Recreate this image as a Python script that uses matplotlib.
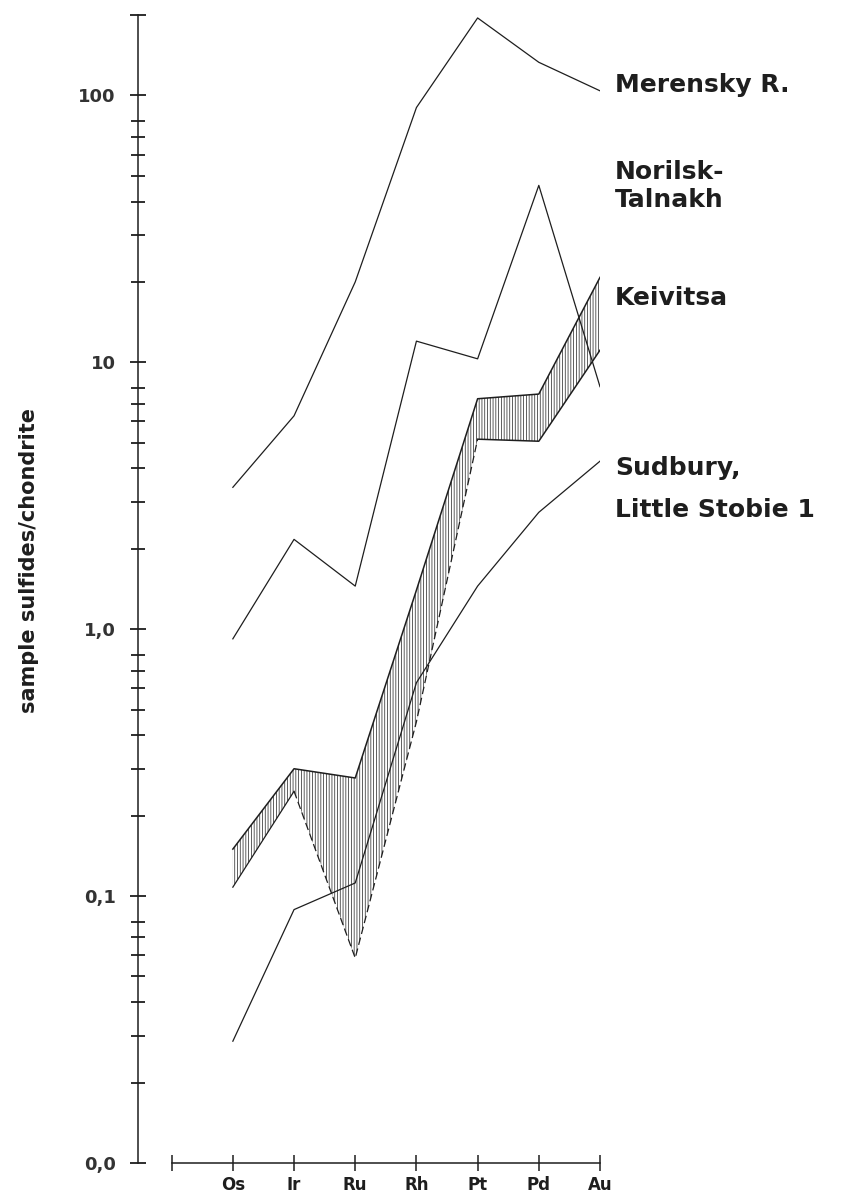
import matplotlib
matplotlib.use("Agg")
import matplotlib.pyplot as plt
from matplotlib.ticker import FixedLocator, NullFormatter

plt.rcParams['font.family'] = ['DejaVu Sans']
plt.rcParams['hatch.linewidth'] = 0.55

# chondrite-normalised noble metal contents
elements = ['Os', 'Ir', 'Ru', 'Rh', 'Pt', 'Pd', 'Au']
merensky = [3.4, 6.3, 20, 90, 195, 133, 104]
norilsk = [0.92, 2.17, 1.45, 12.0, 10.3, 46, 8.1]
sudbury = [0.0286, 0.089, 0.112, 0.63, 1.45, 2.74, 4.26]
keivitsa_hi = [0.150, 0.30, 0.277, 1.4, 7.3, 7.6, 20.8]
keivitsa_lo = [0.108, 0.247, 0.0586, 0.45, 5.15, 5.06, 11.1]

ytick_vals = [0.01, 0.1, 1, 10, 100, 200]
ytick_text = ['0,0', '0,1', '1,0', '10', '100', '']

W, H = 842, 1193
fig = plt.figure(figsize=(W / 100, H / 100), dpi=100)
ax = fig.add_axes([138 / W, 30 / H, 462 / W, 1148 / H])

x = list(range(len(elements)))
ink = '#1e1e1e'

# Keivitsa range: hatched band
ax.fill_between(x, keivitsa_lo, keivitsa_hi, facecolor='none',
                edgecolor='0.2', hatch='||||||', linewidth=0)
ax.plot(x, keivitsa_hi, color=ink, lw=1.1)
ax.plot(x[:2], keivitsa_lo[:2], color=ink, lw=0.9)
ax.plot(x[1:5], keivitsa_lo[1:5], color=ink, lw=0.9, dashes=(6, 3))
ax.plot(x[4:], keivitsa_lo[4:], color=ink, lw=1.1)

for series in (merensky, norilsk, sudbury):
    ax.plot(x, series, color=ink, lw=0.9)

ax.set_yscale('log')
ax.set_ylim(0.01, 200)
ax.set_xlim(-1.55, 6.0)

for side in ('top', 'right'):
    ax.spines[side].set_visible(False)
ax.spines['left'].set_bounds(0.01, 200)
ax.spines['bottom'].set_bounds(-1, 6)
for side in ('left', 'bottom'):
    ax.spines[side].set_linewidth(1.1)
    ax.spines[side].set_color(ink)

ax.set_xticks(range(-1, len(elements)))
ax.set_xticklabels([''] + elements, fontsize=12, fontweight='bold', color=ink)
ax.tick_params(axis='x', direction='inout', length=12, width=1.1, pad=3, color=ink)

minor = [k * 10.0 ** d for d in range(-2, 2) for k in range(2, 9)]
ax.yaxis.set_major_locator(FixedLocator(ytick_vals))
ax.set_yticklabels(ytick_text, fontsize=13, fontweight='bold', color='#333333')
ax.yaxis.set_minor_locator(FixedLocator(minor))
ax.yaxis.set_minor_formatter(NullFormatter())
ax.tick_params(axis='y', which='major', direction='inout', length=12, width=1.3,
               pad=10, color=ink)
ax.tick_params(axis='y', which='minor', direction='inout', length=10, width=1.3,
               color=ink)

ax.set_ylabel('sample sulfides/chondrite', fontsize=15, fontweight='bold', color=ink)
ax.yaxis.set_label_coords(-0.215, 0.525)

# deposit names beside the line ends
labels = [
    ('Merensky R.', 85),
    ('Norilsk-', 172),
    ('Talnakh', 200),
    ('Keivitsa', 298),
    ('Sudbury,', 468),
    ('Little Stobie 1', 510),
]
for text, ypx in labels:
    fig.text(615 / W, 1 - ypx / H, text, fontsize=18, fontweight='bold',
             color=ink, va='center', ha='left')

fig.savefig('out.png', dpi=100, facecolor='white')
